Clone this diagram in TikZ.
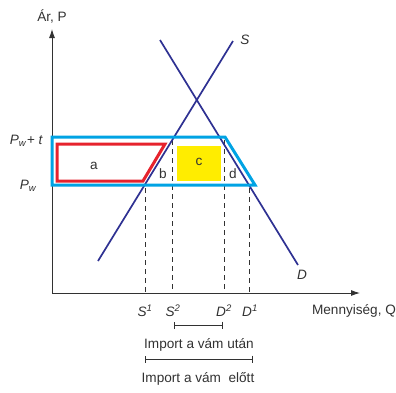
\documentclass[tikz,border=0pt]{standalone}
\usepackage{fontspec}
\setmainfont{Liberation Sans}
\usetikzlibrary{arrows.meta}
\definecolor{navy}{RGB}{46,49,146}
\definecolor{boxcyan}{RGB}{0,163,228}
\definecolor{boxred}{RGB}{230,35,45}
\definecolor{boxyellow}{RGB}{255,237,0}
\definecolor{axisgray}{RGB}{50,50,50}
\begin{document}
\begin{tikzpicture}[x=1pt,y=-1pt,font=\fontsize{13.6}{15}\selectfont,
  axis/.style={line width=0.9pt,draw=axisgray,-{Latex[length=9pt,width=6pt]}},
  curve/.style={navy,line width=1.7pt},
  guide/.style={draw=axisgray,line width=0.8pt,dash pattern=on 5pt off 4pt},
  lbl/.style={inner sep=0pt,text=axisgray},
  brace/.style={draw=axisgray,line width=0.8pt,{Bar[width=7pt]}-{Bar[width=7pt]}}]
\path[use as bounding box] (0,0) rectangle (396,392);
% coordinates
\coordinate (O) at (52,293);
\coordinate (Ytop) at (52,29);
\coordinate (Xend) at (360,293);
\coordinate (S0) at (98,261);
\coordinate (S1c) at (233,41);
\coordinate (D0) at (160,40);
\coordinate (D1c) at (298,265);
% yellow
\fill[boxyellow] (177,146) rectangle (221,181);
% dashed guides
\coordinate (gS1t) at (145,188); \coordinate (gS1b) at (145,293);
\coordinate (gS2t) at (172,140); \coordinate (gS2b) at (172,293);
\coordinate (gD2t) at (224,140); \coordinate (gD2b) at (224,293);
\coordinate (gD1t) at (249,188); \coordinate (gD1b) at (249,293);
\draw[guide] (gS1t) -- (gS1b);
\draw[guide] (gS2t) -- (gS2b);
\draw[guide] (gD2t) -- (gD2b);
\draw[guide] (gD1t) -- (gD1b);
% axes
\draw[axis] (O) -- (Ytop);
\draw[axis] (O) -- (Xend);
% supply and demand
\draw[curve] (S0) -- (S1c);
\draw[curve] (D0) -- (D1c);
% boxes
\draw[boxcyan,line width=3pt,line join=miter] (52,137) -- (225,137) -- (255,185) -- (52,185) -- cycle;
\draw[boxred,line width=3pt,line join=miter] (57,144) -- (165,144) -- (143,181) -- (57,181) -- cycle;
% labels
\node[lbl] (la) at (94,166) {a};
\node[lbl] (lb) at (163,174) {b};
\node[lbl] (lc) at (199,162) {c};
\node[lbl] (ld) at (233,174) {d};
\node[lbl] (yl) at (52,16) {Ár, P};
\node[lbl] (xl) at (354,311) {Mennyiség, Q};
\node[lbl] (sl) at (245,40) {\textit{S}};
\node[lbl] (dl) at (302,275) {\textit{D}};
\node[lbl,anchor=east] (pwt) at (43,141) {\textit{P}\textsubscript{\textit{w}}\textit{+ t}};
\node[lbl,anchor=east] (pw) at (37,186) {\textit{P}\textsubscript{\textit{w}}};
\node[lbl] (ts1) at (145,311) {\textit{S}\textsuperscript{\textit{1}}};
\node[lbl] (ts2) at (173,311) {\textit{S}\textsuperscript{\textit{2}}};
\node[lbl] (td2) at (224,311) {\textit{D}\textsuperscript{\textit{2}}};
\node[lbl] (td1) at (250,311) {\textit{D}\textsuperscript{\textit{1}}};
% brackets
\coordinate (b1l) at (174,325); \coordinate (b1r) at (223,325);
\coordinate (b2l) at (145,359); \coordinate (b2r) at (253,359);
\draw[brace] (b1l) -- (b1r);
\draw[brace] (b2l) -- (b2r);
\node[lbl] (t1) at (199,345) {Import a vám után};
\node[lbl] (t2) at (198,379) {Import a vám\ \ előtt};
\end{tikzpicture}
\end{document}
